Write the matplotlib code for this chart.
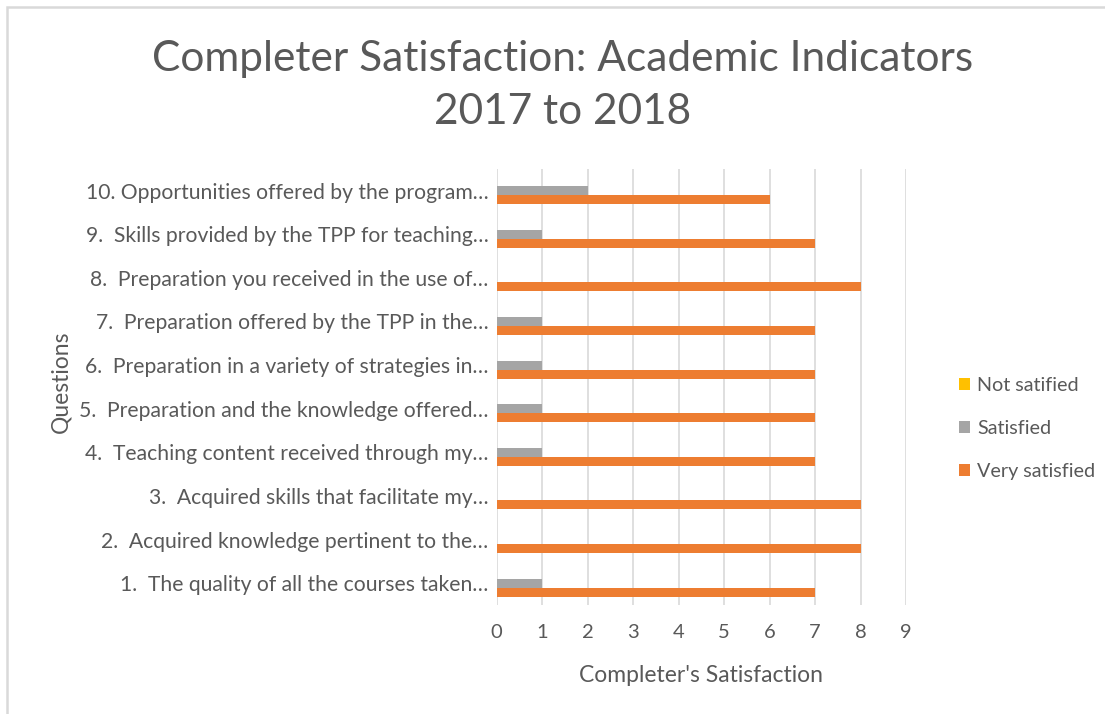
import matplotlib.pyplot as plt
import numpy as np
from matplotlib.patches import Rectangle

plt.rcParams['font.family'] = ['Lato', 'DejaVu Sans']

# chart data (question 1 first, drawn at the bottom)
questions = [
    "1.  The quality of all the courses taken\u2026",
    "2.  Acquired knowledge pertinent to the\u2026",
    "3.  Acquired skills that facilitate my\u2026",
    "4.  Teaching content received through my\u2026",
    "5.  Preparation and the knowledge offered\u2026",
    "6.  Preparation in a variety of strategies in\u2026",
    "7.  Preparation offered by the TPP in the\u2026",
    "8.  Preparation you received in the use of\u2026",
    "9.  Skills provided by the TPP for teaching\u2026",
    "10. Opportunities offered by the program\u2026",
]
not_satisfied = [0, 0, 0, 0, 0, 0, 0, 0, 0, 0]
satisfied = [1, 0, 0, 1, 1, 1, 1, 0, 1, 2]
very_satisfied = [7, 8, 8, 7, 7, 7, 7, 8, 7, 6]
x_ticks = [0, 1, 2, 3, 4, 5, 6, 7, 8, 9]

text_color = "#595959"
grid_color = "#D9D9D9"

fig = plt.figure(figsize=(11.05, 7.14), dpi=100)
ax = fig.add_axes([0.4495, 0.1527, 0.3704, 0.611])

y = np.arange(len(questions))
h = 0.206
ax.barh(y + h, not_satisfied, height=h, color="#FFC000", label="Not satified")
ax.barh(y, satisfied, height=h, color="#A5A5A5", label="Satisfied")
ax.barh(y - h, very_satisfied, height=h, color="#ED7D31", label="Very satisfied")

ax.set_xlim(0, 9)
ax.set_ylim(-0.5, len(questions) - 0.5)
ax.set_xticks(x_ticks)
ax.set_yticks(y)
ax.set_yticklabels(questions)
ax.tick_params(axis='both', length=0, colors=text_color)
ax.tick_params(axis='y', labelsize=15.2, pad=6)
ax.tick_params(axis='x', labelsize=14.5, pad=14)
ax.grid(axis='x', color=grid_color, linewidth=1.2)
ax.set_axisbelow(True)
for s in ax.spines.values():
    s.set_visible(False)

ax.set_xlabel("Completer's Satisfaction", fontsize=16.5, color=text_color, labelpad=17)
fig.text(0.055, 0.465, "Questions", rotation=90, ha='center', va='center',
         fontsize=16.5, color=text_color)

fig.text(0.509, 0.918, "Completer Satisfaction: Academic Indicators", ha='center',
         va='center', fontsize=30.5, color=text_color)
fig.text(0.509, 0.843, "2017 to 2018", ha='center', va='center',
         fontsize=30.5, color=text_color)

handles, labels = ax.get_legend_handles_labels()
leg = fig.legend(handles, labels, loc='center left', bbox_to_anchor=(0.852, 0.40),
                 frameon=False, fontsize=14.2, handlelength=0.55, handleheight=0.55,
                 handletextpad=0.35, labelspacing=1.3, labelcolor=text_color)

# chart frame (cut by the image edge on the right and bottom)
fig.patches.append(Rectangle((7 / 1105, -0.1), 1.2, 1 - 7 / 714 + 0.1,
                             transform=fig.transFigure, fill=False,
                             edgecolor=grid_color, linewidth=1.8))

fig.savefig("out.png", dpi=100)
